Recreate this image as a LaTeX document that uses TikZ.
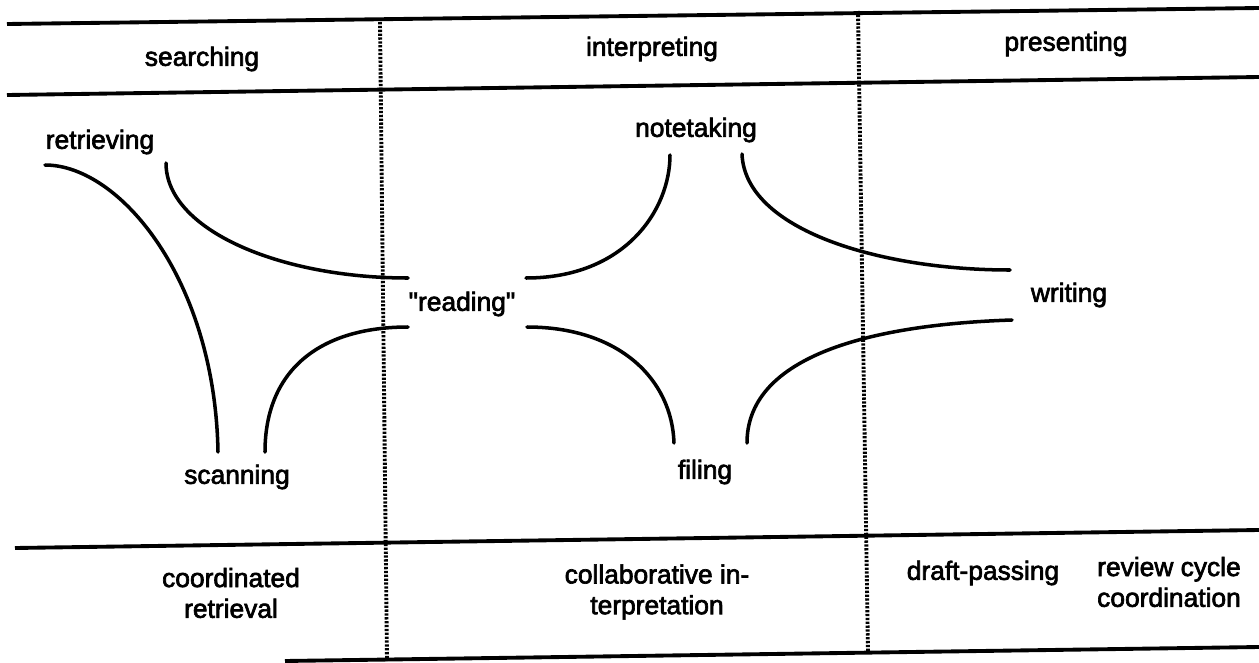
\documentclass[tikz,border=0pt]{standalone}
\usepackage{fontspec}
\setmainfont{Liberation Sans}[FakeBold=2.5]
\usetikzlibrary{calc}

\begin{document}
\begin{tikzpicture}[
    x=0.02cm, y=-0.02cm,
    every node/.style={font=\fontsize{15pt}{17.5pt}\selectfont, align=center},
    rule/.style={line width=2.2pt},
    divider/.style={line width=2.2pt, dash pattern=on 1.3pt off 0.9pt},
    link/.style={line width=2pt, line cap=round},
]
  \useasboundingbox (0,0) rectangle (1259,663);
  \draw[rule] (7,24) -- (1259,8);
  \draw[rule] (7,95) -- (1259,77);
  \draw[rule] (15,548) -- (1259,530);
  \draw[rule] (285,661) -- (1259,647);
  \draw[divider] (380,22) -- (387,661);
  \draw[divider] (858,11) -- (868,652);

  \node (search) at (202,59) {searching};
  \node (interp) at (652,49) {interpreting};
  \node (present) at (1066,44) {presenting};

  \node (retr) at (100,142) {retrieving};
  \node (scan) at (237,477) {scanning};
  \node (read) at (462,304) {\textquotedbl reading\textquotedbl};
  \node (note) at (696,130) {notetaking};
  \node (fil)  at (705,472) {filing};
  \node (writ) at (1069,295) {writing};

  \node (coordret) at (231,593) {coordinated\\retrieval};
  \node (collab)   at (657,592) {collaborative in-\\terpretation};
  \node (draft)    at (983,573) {draft-passing};
  \node (review)   at (1169,582) {review cycle\\coordination};

  \draw[link] ($(retr)+(-55,23)$) .. controls +(75,0) and +(-3,-172) .. ($(scan)+(-19,-25)$);
  \draw[link] ($(retr)+(66,21)$) .. controls +(0,67) and +(-128,0) .. ($(read)+(-54,-26)$);
  \draw[link] ($(read)+(-54,23)$) .. controls +(-88,0) and +(0,-82) .. ($(scan)+(28,-25)$);
  \draw[link] ($(read)+(64,-26)$) .. controls +(99,0) and +(0,55) .. ($(note)+(-26,25)$);
  \draw[link] ($(note)+(46,24)$) .. controls +(3,76) and +(-130,0) .. ($(writ)+(-59,-25)$);
  \draw[link] ($(read)+(65,23)$) .. controls +(93,0) and +(-2,-63) .. ($(fil)+(-31,-29)$);
  \draw[link] ($(fil)+(42,-29)$) .. controls +(0,-83) and +(-152,5) .. ($(writ)+(-57,25)$);
\end{tikzpicture}
\end{document}
